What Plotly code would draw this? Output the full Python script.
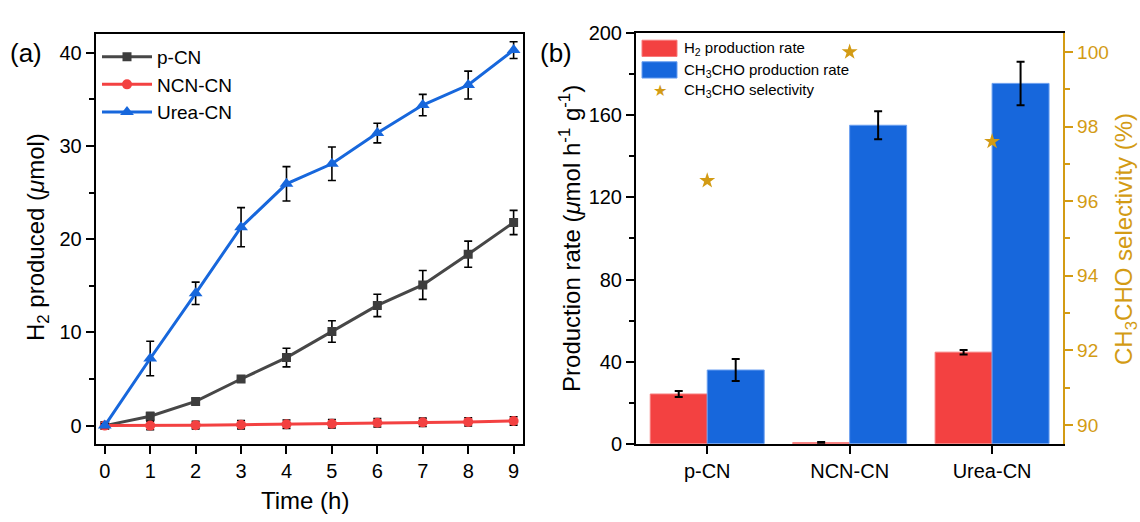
import plotly.graph_objects as go

W, H = 1140, 522
FONT = "Arial, Liberation Sans, sans-serif"

# ---------------- data: panel (a) ----------------
time_h = [0, 1, 2, 3, 4, 5, 6, 7, 8, 9]
pcn_h2 = [0, 1.0, 2.6, 5.0, 7.3, 10.1, 12.9, 15.1, 18.4, 21.8]
pcn_err = [0.2, 0.4, 0.3, 0.3, 1.0, 1.15, 1.2, 1.55, 1.4, 1.3]
ncn_h2 = [0, 0.0, 0.05, 0.1, 0.15, 0.2, 0.3, 0.35, 0.4, 0.5]
ncn_err = [0.1, 0.45, 0.4, 0.45, 0.45, 0.45, 0.45, 0.45, 0.45, 0.45]
urea_h2 = [0, 7.2, 14.2, 21.3, 25.95, 28.1, 31.4, 34.4, 36.55, 40.3]
urea_err = [0.2, 1.85, 1.2, 2.1, 1.85, 1.8, 1.05, 1.15, 1.5, 0.9]

# ---------------- data: panel (b) ----------------
catalysts = ["p-CN", "NCN-CN", "Urea-CN"]
h2_rate = [24.2, 0.5, 44.6]
h2_rate_err = [1.5, 0.3, 1.1]
ch3cho_rate = [35.9, 155.2, 175.6]
ch3cho_rate_err = [5.4, 6.8, 10.6]
selectivity = [96.55, 100.0, 97.6]

GRAY = "#474747"
RED = "#F34141"
BLUE = "#1767DC"
GOLD = "#D39B14"


def px_x(p):
    return p / W


def px_y(p):
    return 1 - p / H


fig = go.Figure()

eb = dict(type="data", color="black", thickness=1.6, width=4)

fig.add_trace(go.Scatter(
    x=time_h, y=pcn_h2, name="p-CN", mode="lines+markers",
    line=dict(color=GRAY, width=3),
    marker=dict(symbol="square", size=9, color="#3d3d3d"),
    error_y=dict(array=pcn_err, **eb), xaxis="x", yaxis="y", legend="legend"))
fig.add_trace(go.Scatter(
    x=time_h, y=ncn_h2, name="NCN-CN", mode="lines+markers",
    line=dict(color=RED, width=3),
    marker=dict(symbol="circle", size=10, color=RED),
    error_y=dict(array=ncn_err, **eb), xaxis="x", yaxis="y", legend="legend"))
fig.add_trace(go.Scatter(
    x=time_h, y=urea_h2, name="Urea-CN", mode="lines+markers",
    line=dict(color=BLUE, width=3),
    marker=dict(symbol="triangle-up", size=12, color=BLUE),
    error_y=dict(array=urea_err, **eb), xaxis="x", yaxis="y", legend="legend"))

# panel (b)
fig.add_trace(go.Bar(
    x=catalysts, y=h2_rate, name="H2 production rate",
    marker=dict(color=RED, line=dict(color="#f77a7a", width=1)),
    error_y=dict(array=h2_rate_err, type="data", color="black", thickness=2, width=4),
    xaxis="x2", yaxis="y2", showlegend=False))
fig.add_trace(go.Bar(
    x=catalysts, y=ch3cho_rate, name="CH3CHO production rate",
    marker=dict(color=BLUE, line=dict(color="#6a9ff0", width=1)),
    error_y=dict(array=ch3cho_rate_err, type="data", color="black", thickness=2, width=4),
    xaxis="x2", yaxis="y2", showlegend=False))
fig.add_trace(go.Scatter(
    x=catalysts, y=selectivity, name="CH3CHO selectivity", mode="markers",
    marker=dict(symbol="star", size=12, color=GOLD, line=dict(width=0)),
    xaxis="x2", yaxis="y3", showlegend=False))

tickfont = dict(family=FONT, size=20, color="black")
axis_common = dict(showline=True, linecolor="black", linewidth=2, ticks="outside",
                   ticklen=8, tickwidth=1.6, tickcolor="black", showgrid=False,
                   zeroline=False, tickfont=tickfont)

layout = dict(
    width=W, height=H, margin=dict(l=0, r=0, t=0, b=0),
    paper_bgcolor="white", plot_bgcolor="white",
    font=dict(family=FONT, color="black"),
    barmode="group", bargap=0.2, bargroupgap=0,
    xaxis=dict(domain=[px_x(95.7), px_x(522.7)], range=[-0.2, 9.2], anchor="y",
               tickmode="array", tickvals=time_h, mirror=True, **axis_common),
    yaxis=dict(domain=[px_y(452.3), px_y(24.3)], range=[-2, 42], anchor="x",
               tickmode="linear", tick0=0, dtick=10, mirror=True,
               minor=dict(ticks="outside", ticklen=5, tickwidth=1.6, dtick=5, tick0=0,
                          tickcolor="black"),
               **axis_common),
    xaxis2=dict(domain=[px_x(636), px_x(1063.3)], range=[-0.5, 2.5], anchor="y2",
                type="category", mirror=True, **axis_common),
    yaxis2=dict(domain=[px_y(451.7), px_y(23.3)], range=[0, 200], anchor="x2",
                tickmode="linear", tick0=0, dtick=40,
                minor=dict(ticks="outside", ticklen=5, tickwidth=1.6, dtick=20, tick0=0,
                           tickcolor="black"),
                **axis_common),
    yaxis3=dict(domain=[px_y(451.7), px_y(23.3)], range=[89.5, 100.5], anchor="x2",
                overlaying="y2", side="right", tickmode="linear", tick0=90, dtick=2,
                showline=True, linecolor=GOLD, linewidth=2, ticks="outside", ticklen=8,
                tickwidth=1.6, tickcolor=GOLD, showgrid=False, zeroline=False,
                tickfont=dict(family=FONT, size=19, color=GOLD),
                minor=dict(ticks="outside", ticklen=5, tickwidth=1.6, dtick=2, tick0=91,
                           tickcolor=GOLD)),
    legend=dict(x=px_x(97), y=px_y(28), xanchor="left", yanchor="top",
                bgcolor="rgba(0,0,0,0)", borderwidth=0,
                font=dict(family=FONT, size=19, color="black"),
                tracegroupgap=0, itemwidth=50),
    showlegend=True,
)
fig.update_layout(**layout)

ann = []
# panel labels
ann.append(dict(text="(a)", x=px_x(26), y=px_y(44), font=dict(size=26)))
ann.append(dict(text="(b)", x=px_x(556), y=px_y(44), font=dict(size=26)))
# axis titles
ann.append(dict(text="Time (h)", x=px_x(305), y=px_y(511), font=dict(size=24)))
ann.append(dict(text="H<sub>2</sub> produced (<i>μ</i>mol)", x=px_x(37), y=px_y(236),
                textangle=-90, font=dict(size=24)))
ann.append(dict(text="Production rate (<i>μ</i>mol h<sup>-1</sup> g<sup>-1</sup>)",
                x=px_x(570), y=px_y(238), textangle=-90, font=dict(size=24)))
ann.append(dict(text="CH<sub>3</sub>CHO selectivity (%)", x=px_x(1126), y=px_y(238),
                textangle=-90, font=dict(size=24, color=GOLD)))
# custom legend for panel (b)
ann.append(dict(text="H<sub>2</sub> production rate", x=px_x(681.7), y=px_y(39),
                xanchor="left", font=dict(size=15)))
ann.append(dict(text="CH<sub>3</sub>CHO production rate", x=px_x(681.7), y=px_y(61.7),
                xanchor="left", font=dict(size=15)))
ann.append(dict(text="CH<sub>3</sub>CHO selectivity", x=px_x(681.7), y=px_y(83.3),
                xanchor="left", font=dict(size=15)))
ann.append(dict(text="★", x=px_x(659.5), y=px_y(83.3), font=dict(size=16, color=GOLD)))
for a in ann:
    a.setdefault("xref", "paper")
    a.setdefault("yref", "paper")
    a.setdefault("xanchor", "center")
    a.setdefault("yanchor", "middle")
    a.setdefault("showarrow", False)
    a["font"] = {"family": FONT, "color": "black", **a["font"]}
fig.update_layout(annotations=ann)

shapes = [
    dict(type="rect", xref="paper", yref="paper", x0=px_x(642), x1=px_x(677),
         y0=px_y(47.5), y1=px_y(30.5), fillcolor=RED, line=dict(color="#f77a7a", width=1)),
    dict(type="rect", xref="paper", yref="paper", x0=px_x(642), x1=px_x(677),
         y0=px_y(70), y1=px_y(53), fillcolor=BLUE, line=dict(color="#6a9ff0", width=1)),
]
fig.update_layout(shapes=shapes)

post = (
    "document.documentElement.style.margin='0';"
    "document.documentElement.style.overflow='hidden';"
    "document.body.style.margin='0';"
    "document.body.style.overflow='hidden';"
    "var d=document.getElementById('{plot_id}');"
    "d.style.position='fixed';d.style.left='0px';d.style.top='0px';"
)
fig.write_html("out.html", post_script=post, config={"displayModeBar": False})
